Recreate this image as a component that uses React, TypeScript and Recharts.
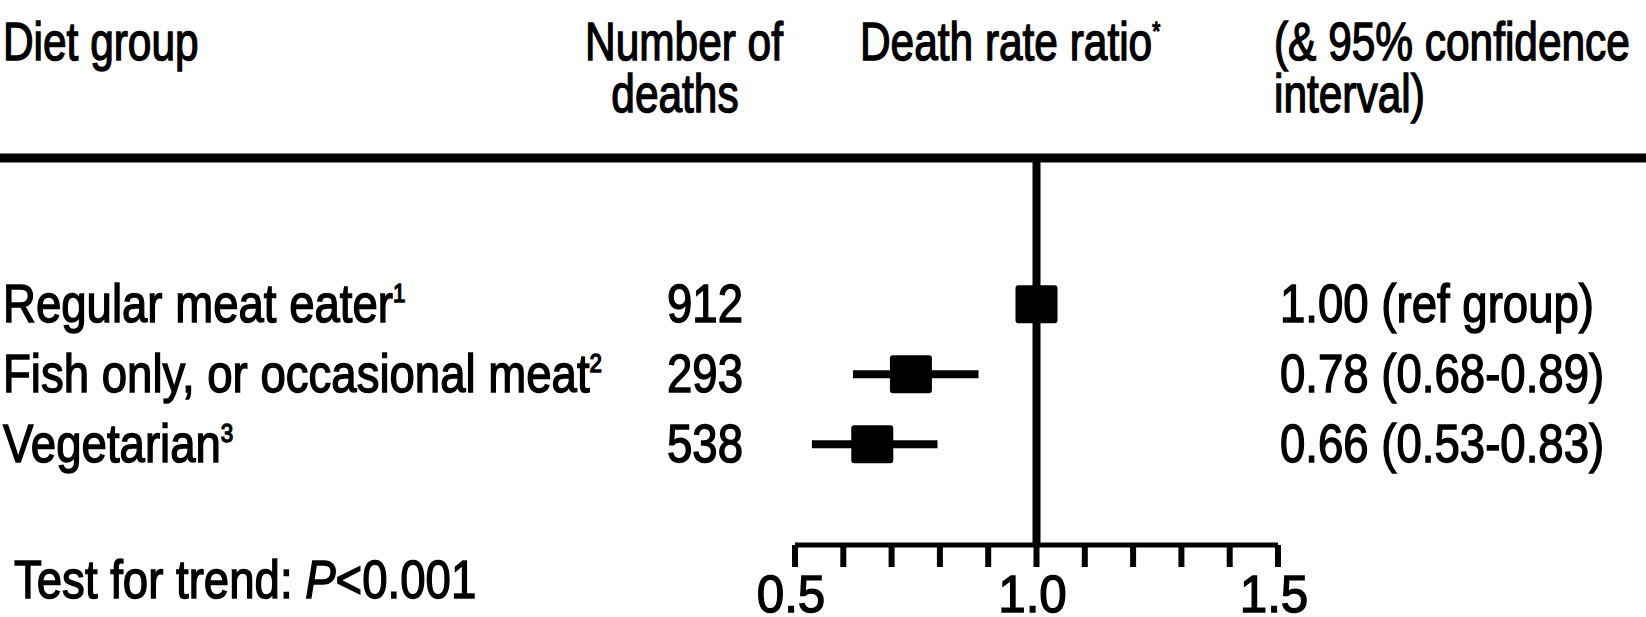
import { ComposedChart, ErrorBar, ReferenceLine, Scatter, XAxis, YAxis } from 'recharts';

// rows, top to bottom
const groups = ['Regular meat eater', 'Fish only, or occasional meat', 'Vegetarian'];
const notes = ['1', '2', '3'];
const deaths = [912, 293, 538];
// positions of the squares and whiskers as drawn
const ratios = [1.0, 0.74, 0.66];
const lower = [1.0, 0.62, 0.535];
const upper = [1.0, 0.88, 0.795];
const ciLabels = ['1.00 (ref group)', '0.78 (0.68-0.89)', '0.66 (0.53-0.83)'];

const xTicks = [0.5, 0.6, 0.7, 0.8, 0.9, 1.0, 1.1, 1.2, 1.3, 1.4, 1.5];
const xLabelled = [0.5, 1.0, 1.5];

const data = groups.map((g, i) => ({
  row: i,
  rr: ratios[i],
  err: [ratios[i] - lower[i], upper[i] - ratios[i]],
}));

const FONT = '"Liberation Sans", Arial, sans-serif';

type TxtProps = {
  x: number;
  y: number;
  size?: number;
  sx?: number;
  anchor?: 'start' | 'middle' | 'end';
  children?: React.ReactNode;
};

const Txt = ({ x, y, size = 53, sx = 0.86, anchor = 'start', children }: TxtProps) => (
  <text
    transform={`translate(${x},${y}) scale(${sx},1)`}
    fontFamily={FONT}
    fontSize={size}
    textAnchor={anchor}
    fill='#000'
    stroke='#000'
    strokeWidth={1.4}
  >
    {children}
  </text>
);

const Sup = ({ n }: { n: string }) => (
  <tspan fontSize={26} dy={-20}>
    {n}
  </tspan>
);

// one tick per row: diet group, deaths and the ratio text
// eslint-disable-next-line @typescript-eslint/no-explicit-any
const RowTick = (props: any) => {
  const { y, payload } = props;
  const i = payload.value as number;
  const base = y + 18;
  return (
    <g>
      <Txt x={3} y={base}>
        {groups[i]}
        <Sup n={notes[i]} />
      </Txt>
      <Txt x={667} y={base}>
        {deaths[i]}
      </Txt>
      <Txt x={1280} y={base}>
        {ciLabels[i]}
      </Txt>
    </g>
  );
};

// eslint-disable-next-line @typescript-eslint/no-explicit-any
const AxisTick = (props: any) => {
  const { x, payload } = props;
  const v = payload.value as number;
  if (!xLabelled.some((t) => Math.abs(t - v) < 1e-6)) return <g />;
  return (
    <Txt x={x - 4} y={612} size={52} sx={0.95} anchor='middle'>
      {v.toFixed(1)}
    </Txt>
  );
};

// eslint-disable-next-line @typescript-eslint/no-explicit-any
const Square = (props: any) => {
  const { cx, cy } = props;
  return <rect x={cx - 21} y={cy - 19} width={42} height={38} rx={3} fill='#000' />;
};

export default function App() {
  return (
    <div style={{ position: 'absolute', left: 0, top: 0, background: '#fff' }}>
      <ComposedChart
        width={1646}
        height={617}
        data={data}
        margin={{ top: 158, right: 368, left: 0, bottom: 0 }}
      >
        <XAxis
          type='number'
          dataKey='rr'
          domain={[0.5, 1.5]}
          ticks={xTicks}
          interval={0}
          height={72}
          axisLine={{ stroke: '#000', strokeWidth: 5 }}
          tickLine={{ stroke: '#000', strokeWidth: 6 }}
          tickSize={22}
          tick={<AxisTick />}
        />
        <YAxis
          type='number'
          dataKey='row'
          domain={[-2.09, 3.44]}
          reversed
          ticks={[0, 1, 2]}
          width={795}
          axisLine={false}
          tickLine={false}
          tick={<RowTick />}
        />
        <ReferenceLine x={1} stroke='#000' strokeWidth={8} />
        <Scatter data={data} dataKey='rr' shape={<Square />} isAnimationActive={false}>
          <ErrorBar dataKey='err' direction='x' width={0} stroke='#000' strokeWidth={8} />
        </Scatter>

        <line x1={0} x2={1646} y1={158} y2={158} stroke='#000' strokeWidth={9} />
        <Txt x={3} y={60} sx={0.8}>Diet group</Txt>
        <Txt x={684} y={60} sx={0.8} anchor='middle'>Number of</Txt>
        <Txt x={675} y={112} sx={0.8} anchor='middle'>deaths</Txt>
        <Txt x={860} y={60} sx={0.8}>
          Death rate ratio<Sup n='*' />
        </Txt>
        <Txt x={1274} y={60} sx={0.8}>(&amp; 95% confidence</Txt>
        <Txt x={1274} y={112} sx={0.8}>interval)</Txt>
        <Txt x={14} y={598}>
          Test for trend: <tspan fontStyle='italic'>P</tspan>&lt;0.001
        </Txt>
      </ComposedChart>
    </div>
  );
}
